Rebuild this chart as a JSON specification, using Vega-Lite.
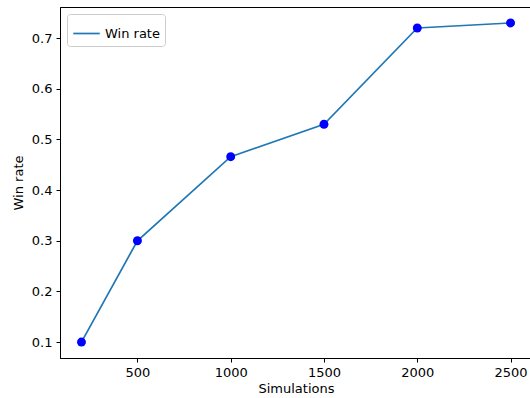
{
  "$schema": "https://vega.github.io/schema/vega-lite/v6.json",
  "autosize": {"type": "none"},
  "width": 472,
  "height": 351,
  "padding": {"left": 60, "top": 7, "right": 0, "bottom": 40},
  "background": "white",
  "config": {
    "font": "DejaVu Sans",
    "view": {"stroke": "black", "strokeWidth": 1},
    "axis": {
      "grid": false,
      "domainColor": "black",
      "tickColor": "black",
      "tickSize": 4,
      "labelColor": "black",
      "titleColor": "black",
      "labelFontSize": 13,
      "titleFontSize": 13,
      "titleFontWeight": "normal",
      "labelPadding": 4
    }
  },
  "data": {
    "values": [
      {"sims": 200, "rate": 0.1, "series": "Win rate"},
      {"sims": 500, "rate": 0.3, "series": "Win rate"},
      {"sims": 1000, "rate": 0.466, "series": "Win rate"},
      {"sims": 1500, "rate": 0.53, "series": "Win rate"},
      {"sims": 2000, "rate": 0.72, "series": "Win rate"},
      {"sims": 2500, "rate": 0.73, "series": "Win rate"}
    ]
  },
  "encoding": {
    "x": {
      "field": "sims", "type": "quantitative",
      "scale": {"domain": [85, 2615], "nice": false, "zero": false},
      "axis": {"values": [500, 1000, 1500, 2000, 2500], "format": "d", "title": "Simulations", "titlePadding": 3}
    },
    "y": {
      "field": "rate", "type": "quantitative",
      "scale": {"domain": [0.0685, 0.7615], "nice": false, "zero": false},
      "axis": {"values": [0.1, 0.2, 0.3, 0.4, 0.5, 0.6, 0.7], "format": ".1f", "title": "Win rate", "titlePadding": 6}
    }
  },
  "layer": [
    {
      "mark": {"type": "line", "strokeWidth": 1.7},
      "encoding": {
        "color": {
          "field": "series", "type": "nominal",
          "scale": {"range": ["#1f77b4"]},
          "legend": {
            "title": null,
            "orient": "top-left",
            "offset": 7,
            "symbolType": "stroke",
            "symbolSize": 700,
            "symbolStrokeWidth": 1.7,
            "labelFontSize": 13,
            "labelColor": "black",
            "strokeColor": "#cccccc",
            "fillColor": "white",
            "padding": 5,
            "cornerRadius": 3
          }
        }
      }
    },
    {
      "mark": {"type": "point", "filled": true, "color": "#0000ff", "opacity": 1, "size": 80}
    }
  ]
}
